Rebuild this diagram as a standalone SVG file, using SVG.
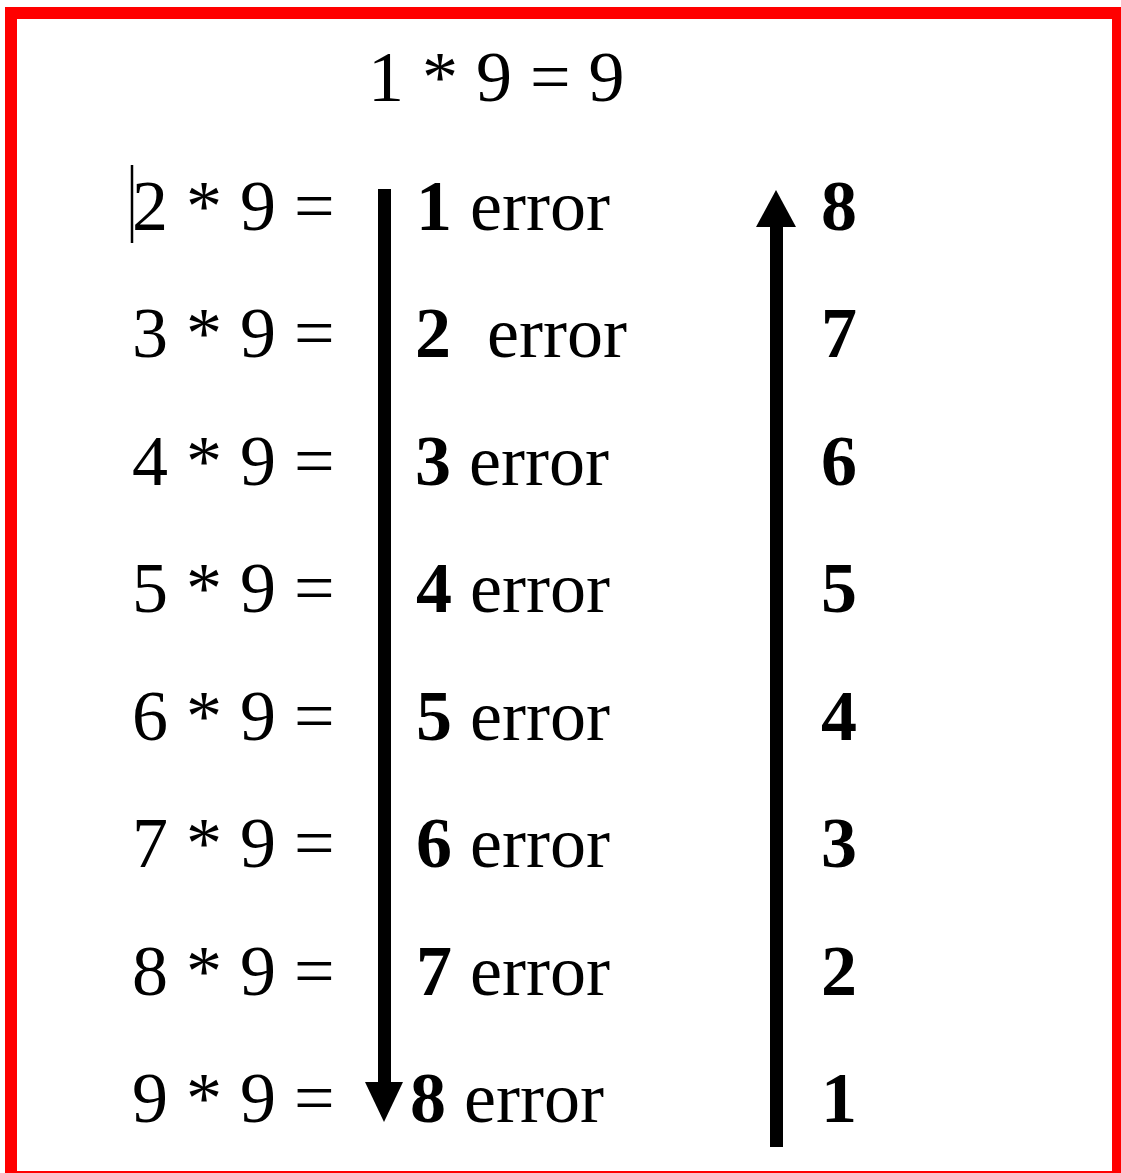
<svg xmlns="http://www.w3.org/2000/svg" width="1121" height="1173" viewBox="0 0 1121 1173">
<style>
text{font-family:"Liberation Serif","Times New Roman",serif;font-size:72px;fill:#000;white-space:pre}
.b{font-weight:bold}
.shaft{fill:#000}
</style>
<rect x="0" y="0" width="1121" height="1173" fill="#fff"/>
<rect x="11" y="13" width="1107" height="1164" fill="none" stroke="#f00" stroke-width="12"/>
<g id="top"><text x="368" y="101" font-size="73">1 * 9 = 9</text></g>
<line id="cursor" x1="132" y1="165" x2="132" y2="243" stroke="#000" stroke-width="2.5"/>
<g id="left">
<text x="132" y="230">2 * 9 =</text>
<text x="132" y="357">3 * 9 =</text>
<text x="132" y="485">4 * 9 =</text>
<text x="132" y="612">5 * 9 =</text>
<text x="132" y="740">6 * 9 =</text>
<text x="132" y="867">7 * 9 =</text>
<text x="132" y="995">8 * 9 =</text>
<text x="132" y="1122">9 * 9 =</text>
</g>
<g id="middle">
<text x="416" y="230"><tspan class="b">1</tspan> error</text>
<text x="415" y="357"><tspan class="b">2</tspan>  error</text>
<text x="415" y="485"><tspan class="b">3</tspan> error</text>
<text x="416" y="612"><tspan class="b">4</tspan> error</text>
<text x="416" y="740"><tspan class="b">5</tspan> error</text>
<text x="416" y="867"><tspan class="b">6</tspan> error</text>
<text x="416" y="995"><tspan class="b">7</tspan> error</text>
<text x="410" y="1122"><tspan class="b">8</tspan> error</text>
</g>
<g id="right">
<text class="b" x="821" y="230">8</text>
<text class="b" x="821" y="357">7</text>
<text class="b" x="821" y="485">6</text>
<text class="b" x="821" y="612">5</text>
<text class="b" x="821" y="740">4</text>
<text class="b" x="821" y="867">3</text>
<text class="b" x="821" y="995">2</text>
<text class="b" x="821" y="1122">1</text>
</g>
<g id="connectors">
<g id="down-arrow">
<rect class="shaft" x="378" y="189" width="13" height="894"/>
<polygon points="365,1082 403,1082 384,1122"/>
</g>
<g id="up-arrow">
<rect class="shaft" x="770" y="226" width="13" height="921"/>
<polygon points="756,227 796,227 776,190"/>
</g>
</g>
</svg>
